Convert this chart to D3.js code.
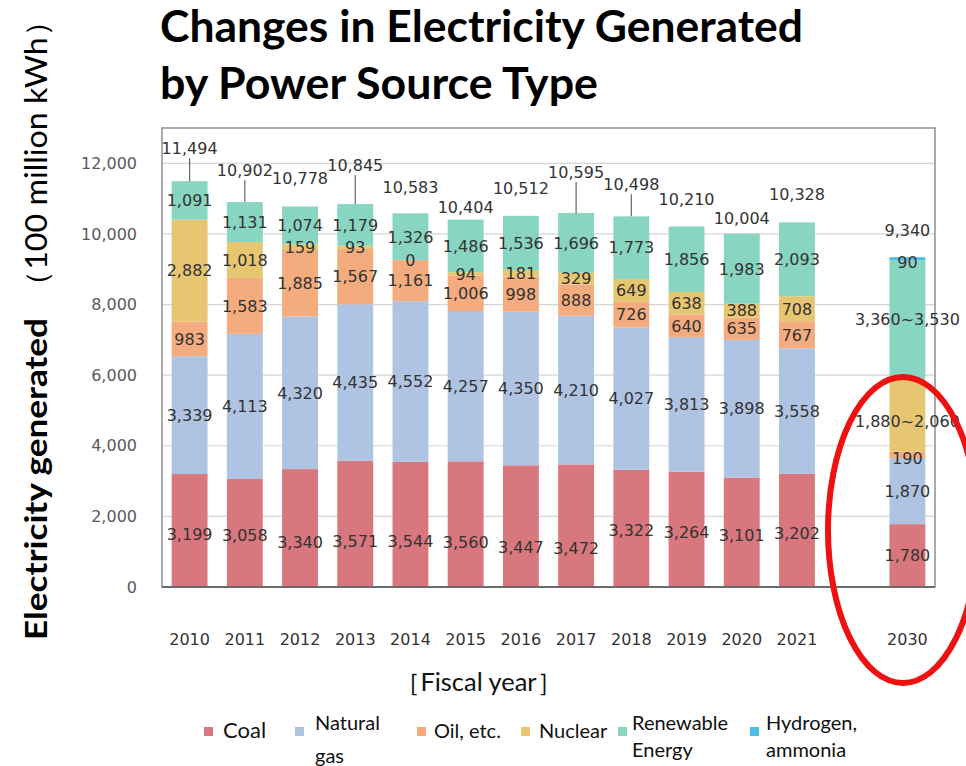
<!DOCTYPE html>
<html><head><meta charset="utf-8">
<script src="https://cdn.jsdelivr.net/npm/d3@7"></script>
<style>body{margin:0;background:#fff}svg{display:block}</style>
</head><body>
<svg id="c" width="966" height="766"></svg>
<script>
// ---------------- data ----------------
const years = ["2010","2011","2012","2013","2014","2015","2016","2017","2018","2019","2020","2021","2030"];
const coal       = [3199,3058,3340,3571,3544,3560,3447,3472,3322,3264,3101,3202,1780];
const naturalGas = [3339,4113,4320,4435,4552,4257,4350,4210,4027,3813,3898,3558,1870];
const oil        = [983,1583,1885,1567,1161,1006,998,888,726,640,635,767,190];
const nuclear    = [2882,1018,159,93,0,94,181,329,649,638,388,708,2050];
const renewable  = [1091,1131,1074,1179,1326,1486,1536,1696,1773,1856,1983,2093,3360];
const hydrogen   = [0,0,0,0,0,0,0,0,0,0,0,0,90];
const totals     = [11494,10902,10778,10845,10583,10404,10512,10595,10498,10210,10004,10328,9340];
const rangeLabels2030 = {nuclear:"1,880~2,060", renew:"3,360~3,530"};
const yTicks = [0,2000,4000,6000,8000,10000,12000];
const legendLabels = [["Coal"],["Natural","gas"],["Oil, etc."],["Nuclear"],["Renewable","Energy"],["Hydrogen,","ammonia"]];

// ---------------- layout (label placement tweaks, px) ----------------
const totalLift  = [33,32,28,39,26,12,28,41,32,27,16,28,27];
const leaderLine = [1,1,0,1,0,0,0,1,1,0,0,0,0];
const coalLabelDy = [4,2,14,17,17,18,21,23,2,3,3,3,0];

const keys = ["coal","gas","oil","nuclear","renew","hydro"];
const colors = {coal:"#d9777e", gas:"#afc4e2", oil:"#f4ac7f", nuclear:"#e7c672", renew:"#88d5c1", hydro:"#4dbde2"};

const rows = years.map((yr,i)=>({year:yr, coal:coal[i], gas:naturalGas[i], oil:oil[i],
  nuclear:nuclear[i], renew:renewable[i], hydro:hydrogen[i], idx:i}));

const svg = d3.select("#c");
const P = {left:162, right:935, top:128, bottom:587};
const xKeys = years.slice(0,12).concat(["gap"], years.slice(12));
const x = d3.scaleBand().domain(xKeys).range([P.left,P.right]).paddingInner(0.35).paddingOuter(0.175);
const y = d3.scaleLinear().domain([0,13000]).range([P.bottom,P.top]);

const numFont = "'DejaVu Sans', Verdana, sans-serif";
const txtFont = "Lato, 'Noto Sans', sans-serif";

// gridlines
svg.append("g").selectAll("line").data(yTicks.filter(t=>t>0)).join("line")
  .attr("x1",P.left).attr("x2",P.right).attr("y1",d=>y(d)).attr("y2",d=>y(d))
  .attr("stroke","#d6d6d6").attr("stroke-width",1.2);

// frame
svg.append("rect").attr("x",P.left).attr("y",P.top).attr("width",P.right-P.left).attr("height",P.bottom-P.top)
  .attr("fill","none").attr("stroke","#8f8f8f").attr("stroke-width",1.5);

// stacked bars
const stacked = d3.stack().keys(keys)(rows);
const gBars = svg.append("g");
stacked.forEach(s=>{
  gBars.append("g").attr("fill",colors[s.key]).selectAll("rect").data(s).join("rect")
    .attr("x",d=>x(d.data.year)).attr("width",x.bandwidth())
    .attr("y",d=>y(d[1])).attr("height",d=>Math.max(0,y(d[0])-y(d[1])));
});

// bottom axis line
svg.append("line").attr("x1",P.left).attr("x2",P.right).attr("y1",P.bottom).attr("y2",P.bottom)
  .attr("stroke","#6b6b6b").attr("stroke-width",2);

// segment labels
const gLab = svg.append("g").attr("font-family",numFont).attr("font-size",16).attr("fill","#333")
  .attr("text-anchor","middle");
stacked.forEach(s=>{
  s.forEach(d=>{
    const v = d.data[s.key], i = d.data.idx;
    if (s.key==="hydro" && v<=0) return;
    let txt = d3.format(",")(v);
    if (d.data.year==="2030" && rangeLabels2030[s.key]) txt = rangeLabels2030[s.key];
    let cy = (y(d[0])+y(d[1]))/2;
    if (s.key==="coal") cy += coalLabelDy[i];
    if (s.key==="hydro" || (s.key==="oil" && d.data.year==="2030")) cy += 3;
    if (s.key==="nuclear" && d.data.year==="2030") cy += 6;
    gLab.append("text").attr("x",x(d.data.year)+x.bandwidth()/2).attr("y",cy).attr("dy","0.36em").text(txt);
  });
});

// totals
const gTot = svg.append("g").attr("font-family",numFont).attr("font-size",16).attr("fill","#333").attr("text-anchor","middle");
rows.forEach((r,i)=>{
  const cx = x(r.year)+x.bandwidth()/2;
  const top = y(totals[i]);
  const ly = top - totalLift[i];
  gTot.append("text").attr("x",cx).attr("y",ly).attr("dy","0.36em").text(d3.format(",")(totals[i]));
  if (leaderLine[i]) {
    svg.append("line").attr("x1",cx).attr("x2",cx).attr("y1",ly+10).attr("y2",top)
      .attr("stroke","#666").attr("stroke-width",1.2);
  }
});

// y axis tick labels
const yAxis = svg.append("g").attr("transform",`translate(${P.left},0)`)
  .call(d3.axisLeft(y).tickValues(yTicks).tickSize(0).tickPadding(25).tickFormat(d3.format(",")));
yAxis.select(".domain").remove();
yAxis.selectAll("text").attr("font-family",numFont).attr("font-size",16).attr("fill","#595959");

// x axis labels
const xAxis = svg.append("g").attr("transform",`translate(0,${P.bottom})`)
  .call(d3.axisBottom(x).tickSize(0).tickPadding(47).tickFormat(d=>d==="gap"?"":d));
xAxis.select(".domain").remove();
xAxis.selectAll("text").attr("font-family",numFont).attr("font-size",16).attr("fill","#333");

// title
svg.append("text").attr("x",160).attr("y",42).attr("font-family",txtFont).attr("font-weight",700)
  .attr("font-size",44).attr("fill","#000").attr("textLength",643).attr("lengthAdjust","spacingAndGlyphs")
  .text("Changes in Electricity Generated");
svg.append("text").attr("x",160).attr("y",99).attr("font-family",txtFont).attr("font-weight",700)
  .attr("font-size",44).attr("fill","#000").attr("textLength",438).attr("lengthAdjust","spacingAndGlyphs")
  .text("by Power Source Type");

// y axis title
svg.append("text").attr("transform","translate(47,640) rotate(-90)").attr("font-family",txtFont)
  .attr("font-weight",700).attr("font-size",30).attr("fill","#000")
  .attr("textLength",322).attr("lengthAdjust","spacingAndGlyphs").text("Electricity generated");
svg.append("text").attr("transform","translate(47,302) rotate(-90)").attr("font-family",txtFont)
  .attr("font-size",30).attr("fill","#000")
  .attr("textLength",297).attr("lengthAdjust","spacingAndGlyphs").text("（100 million  kWh）");

// x axis title
svg.append("text").attr("x",395).attr("y",691).attr("font-family",txtFont).attr("font-size",25)
  .attr("fill","#111").attr("textLength",167).attr("lengthAdjust","spacingAndGlyphs").text("［Fiscal year］");

// legend
const legendPos = [
  {sx:204, tx:223, base:[738], fs:22},
  {sx:295, tx:315, base:[730,763], fs:20},
  {sx:417, tx:434, base:[738], fs:20},
  {sx:521, tx:539, base:[738], fs:20},
  {sx:618, tx:632, base:[730,757], fs:20},
  {sx:750, tx:766, base:[730,757], fs:20}
];
const gLeg = svg.append("g");
keys.forEach((k,i)=>{
  const l = legendPos[i];
  gLeg.append("rect").attr("x",l.sx).attr("y",727).attr("width",9).attr("height",9).attr("fill",colors[k]);
  legendLabels[i].forEach((t,j)=>{
    gLeg.append("text").attr("x",l.tx).attr("y",l.base[j]).attr("font-family",txtFont).attr("font-size",l.fs)
      .attr("fill","#111").text(t);
  });
});

// red highlight ellipse
svg.append("ellipse").attr("cx",903).attr("cy",530).attr("rx",75).attr("ry",153)
  .attr("fill","none").attr("stroke","#ee1111").attr("stroke-width",6);
</script>
</body></html>
